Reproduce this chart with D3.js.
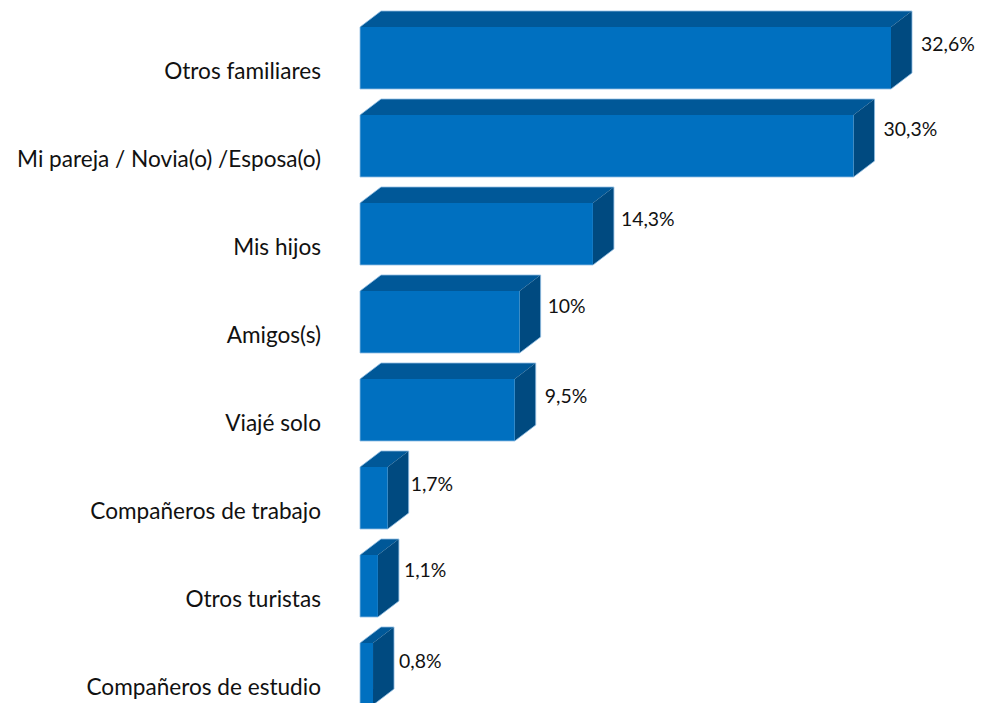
<!DOCTYPE html>
<html>
<head>
<meta charset="utf-8">
<script src="https://cdn.jsdelivr.net/npm/d3@7"></script>
<style>
  html, body { margin: 0; padding: 0; background: #fff; overflow: hidden; }
  text { font-family: Lato, "Open Sans", sans-serif; fill: #111; }
</style>
</head>
<body>
<script>
// data
var categories = ['Otros familiares', 'Mi pareja / Novia(o) /Esposa(o)', 'Mis hijos', 'Amigos(s)',
  'Viajé solo', 'Compañeros de trabajo', 'Otros turistas', 'Compañeros de estudio'];
var values = [32.6, 30.3, 14.3, 9.8, 9.5, 1.7, 1.1, 0.8];
var valueLabels = ['32,6%', '30,3%', '14,3%', '10%', '9,5%', '1,7%', '1,1%', '0,8%'];

// the value labels were placed by hand in the original
var labelDx = [9, 9, 7, 7, 9, 2, 5, 5];
var labelDy = [-14, -17, -15, -16, -14, -14, -16, -13];

var width = 982, height = 703;
var depthX = 21, depthY = 16;

var x = d3.scaleLinear().domain([0, 32.6]).range([360, 891]);
var y = d3.scaleBand().domain(categories).range([14, 718])
  .paddingInner(26 / 88).paddingOuter(13 / 88);

var rows = categories.map(function(c, i) {
  return { name: c, value: values[i], label: valueLabels[i], i: i };
});

var svg = d3.select('body').append('svg')
  .attr('width', width)
  .attr('height', height)
  .style('display', 'block');

// bars
var bar = svg.append('g').selectAll('g.bar')
  .data(rows)
  .enter().append('g')
    .attr('class', 'bar');

function topFace(d) {
  var x0 = x(0), x1 = x(d.value), t = y(d.name);
  return [[x0, t], [x0 + depthX, t - depthY], [x1 + depthX, t - depthY], [x1, t]].join(' ');
}
function sideFace(d) {
  var x1 = x(d.value), t = y(d.name), b = t + y.bandwidth();
  return [[x1, t], [x1 + depthX, t - depthY], [x1 + depthX, b - depthY], [x1, b]].join(' ');
}
function outline(d) {
  var x0 = x(0), x1 = x(d.value), t = y(d.name), b = t + y.bandwidth();
  return [[x0, t], [x0 + depthX, t - depthY], [x1 + depthX, t - depthY], [x1 + depthX, b - depthY],
    [x1, b], [x0, b]].join(' ');
}

bar.append('polygon')
  .attr('points', topFace)
  .attr('fill', '#005898');

bar.append('polygon')
  .attr('points', sideFace)
  .attr('fill', '#004a80');

bar.append('rect')
  .attr('x', x(0))
  .attr('y', function(d) { return y(d.name); })
  .attr('width', function(d) { return x(d.value) - x(0); })
  .attr('height', y.bandwidth())
  .attr('fill', '#0070c0');

// pale edge round each bar
bar.append('polygon')
  .attr('points', outline)
  .attr('fill', 'none')
  .attr('stroke', '#8fbde2')
  .attr('stroke-width', 0.8);

// category labels
var axis = d3.axisLeft(y).tickSize(0).tickPadding(39);
var axisG = svg.append('g')
  .attr('transform', 'translate(' + x(0) + ',14)')
  .call(axis);
axisG.select('.domain').remove();
axisG.selectAll('text')
  .style('font-family', 'Lato, "Open Sans", sans-serif')
  .style('font-size', '22.6px')
  .attr('fill', '#111');

// value labels
bar.append('text')
  .attr('x', function(d) { return x(d.value) + depthX + labelDx[d.i]; })
  .attr('y', function(d) { return y(d.name) + y.bandwidth() / 2 + labelDy[d.i]; })
  .attr('dy', '0.35em')
  .style('font-size', '19.4px')
  .text(function(d) { return d.label; });
</script>
</body>
</html>
